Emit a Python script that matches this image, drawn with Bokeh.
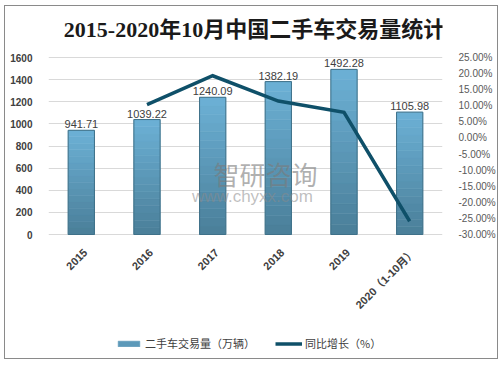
from bokeh.plotting import figure
from bokeh.models import (Range1d, LinearAxis, FixedTicker, PrintfTickFormatter,
                          Legend, LegendItem, Label, ColumnDataSource)
from bokeh.core.properties import value
from bokeh.embed import file_html
from bokeh.resources import INLINE
from math import pi

# ---- data ----
categories = ["2015", "2016", "2017", "2018", "2019", "2020（1-10月）"]
volume = [941.71, 1039.22, 1240.09, 1382.19, 1492.28, 1105.98]
growth_categories = ["2016", "2017", "2018", "2019", "2020（1-10月）"]
growth = [10.35, 19.33, 11.46, 7.97, -25.89]
left_ticks = [0, 200, 400, 600, 800, 1000, 1200, 1400, 1600]
right_ticks = [-30, -25, -20, -15, -10, -5, 0, 5, 10, 15, 20, 25]
title_text = "2015-2020年10月中国二手车交易量统计"
bar_legend = "二手车交易量（万辆）"
line_legend = "同比增长（%）"

CJK = "'Liberation Sans', 'Noto Sans CJK SC'"

# Frame covers the full canvas height; ranges are extended so that the
# 0..1600 / -30..25 spans sit where the reference plot area is.
W, H = 494, 354
px_per_unit = 177 / 1600
top_gap, bottom_gap = 51, 126
y_lo = -bottom_gap / px_per_unit
y_hi = 1600 + top_gap / px_per_unit
pct_per_px = 55 / 177
p_lo = -30 - bottom_gap * pct_per_px
p_hi = 25 + top_gap * pct_per_px

p = figure(x_range=categories, y_range=Range1d(y_lo, y_hi),
           width=W, height=H, output_backend="svg", toolbar_location=None,
           x_axis_location=None,
           min_border_left=43, min_border_right=57, min_border_top=0,
           min_border_bottom=0, outline_line_color=None,
           background_fill_color="white", border_fill_color="white",
           styles={"border": "1px solid #8a8a8a", "margin-left": "4px",
                   "margin-top": "5px"})
p.x_range.range_padding = 0
p.extra_y_ranges = {"pct": Range1d(p_lo, p_hi)}

# gradient bars built from stacked slices of each bar
N = 16
top_rgb = (0x6c, 0xb1, 0xd6)
bot_rgb = (0x4a, 0x7e, 0x98)
seg = dict(x=[], bottom=[], top=[], color=[])
for c, v in zip(categories, volume):
    for i in range(N):
        t = (i + 0.5) / N
        rgb = tuple(int(round(b + (a - b) * t)) for a, b in zip(top_rgb, bot_rgb))
        seg["x"].append(c)
        seg["bottom"].append(v * i / N)
        seg["top"].append(v * (i + 1) / N)
        seg["color"].append("#%02x%02x%02x" % rgb)
seg_r = p.vbar(x="x", bottom="bottom", top="top", width=0.4,
               source=ColumnDataSource(seg),
               fill_color="color", line_color="color", line_width=0.6)

src = ColumnDataSource(dict(cat=categories, vol=volume,
                            lab=[f"{v:.2f}" for v in volume],
                            zero=[0] * len(categories)))
p.vbar(x="cat", top="vol", width=0.4, source=src,
       fill_color=None, line_color="#3f7189", line_width=1)

line = p.line(growth_categories, growth, y_range_name="pct",
              line_color="#0f5069", line_width=3.5, line_join="miter")

# value labels
p.text(x="cat", y="vol", text="lab", source=src, text_align="center",
       text_baseline="alphabetic", y_offset=-6, text_font_size="11px",
       text_color="#404040", text_font=value("Liberation Sans"))

# category labels (rotated)
p.text(x="cat", y="zero", text="cat", source=src, angle=pi / 4,
       text_align="right", text_baseline="middle", x_offset=4, y_offset=16,
       text_font_size="11px", text_font_style="bold", text_color="#404040",
       text_font=value(CJK))

# axes
p.yaxis.ticker = FixedTicker(ticks=left_ticks)
p.yaxis.axis_line_color = None
p.yaxis.major_tick_line_color = None
p.yaxis.minor_tick_line_color = None
p.yaxis.major_label_text_font_size = "10px"
p.yaxis.major_label_text_font_style = "bold"
p.yaxis.major_label_text_font = "Liberation Sans"
p.yaxis.major_label_text_color = "#404040"
p.yaxis.major_label_standoff = 10

ax2 = LinearAxis(y_range_name="pct", ticker=FixedTicker(ticks=right_ticks),
                 formatter=PrintfTickFormatter(format="%.2f%%"))
ax2.axis_line_color = None
ax2.major_tick_line_color = None
ax2.minor_tick_line_color = None
ax2.major_label_text_font_size = "10px"
ax2.major_label_text_font = "Liberation Sans"
ax2.major_label_text_color = "#595959"
ax2.major_label_standoff = 10
p.add_layout(ax2, "right")

p.xgrid.grid_line_color = None
p.ygrid.ticker = FixedTicker(ticks=left_ticks)
p.ygrid.grid_line_color = "#d9d9d9"
p.ygrid.grid_line_width = 1

# title
p.add_layout(Label(x=206, y=H - 23, x_units="screen", y_units="screen",
                   text=title_text, text_align="center", text_baseline="middle",
                   text_font="'Liberation Serif', 'Noto Sans CJK SC'",
                   text_font_size="22px", text_font_style="bold",
                   text_color="#1a1a1a"))

# watermark
p.add_layout(Label(x=217, y=H - 167, x_units="screen", y_units="screen",
                   text="智研咨询", text_align="center", text_baseline="middle",
                   text_font="Noto Sans CJK SC", text_font_size="26px",
                   text_color="#7a7a7a", text_alpha=0.6))
p.add_layout(Label(x=204, y=H - 190, x_units="screen", y_units="screen",
                   text="www.chyxx.com", text_align="center", text_baseline="middle",
                   text_font="Liberation Sans", text_font_size="17px",
                   text_color="#8a8a8a", text_alpha=0.55))

legend = Legend(items=[LegendItem(label=bar_legend, renderers=[seg_r], index=N // 2),
                       LegendItem(label=line_legend, renderers=[line])],
                location=(67, 9), orientation="horizontal",
                padding=0, margin=0, spacing=20, glyph_width=27, glyph_height=7,
                label_standoff=3, label_height=12, label_text_font="Noto Sans CJK SC",
                label_text_font_size="11px", label_text_color="#404040",
                border_line_color=None, background_fill_alpha=0)
p.add_layout(legend)

open("out.html", "w").write(file_html(p, INLINE))
